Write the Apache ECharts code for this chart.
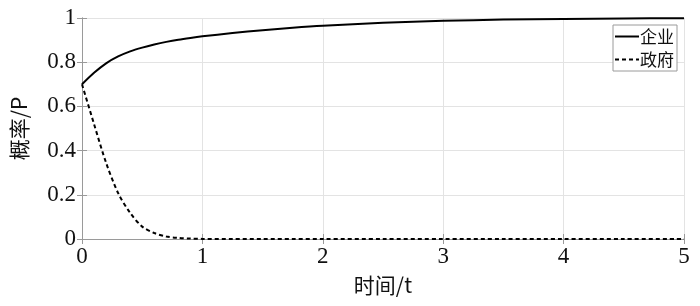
<!DOCTYPE html>
<html><head><meta charset="utf-8">
<script src="https://cdn.jsdelivr.net/npm/echarts@6/dist/echarts.min.js"></script>
<style>html,body{margin:0;padding:0;background:#fff}#c{width:700px;height:306px}</style>
</head><body><div id="c"></div>
<script>
var seriesNames = ['企业', '政府'];
var tValues = [0, 0.1, 0.2, 0.3, 0.4, 0.5, 0.6, 0.7, 0.8, 0.9, 1.0, 1.25, 1.5, 1.75, 2.0, 2.5, 3.0, 3.5, 4.0, 4.5, 5.0];
var enterprise = [0.70, 0.752, 0.795, 0.826, 0.849, 0.866, 0.880, 0.892, 0.902, 0.910, 0.917, 0.932, 0.945, 0.956, 0.965, 0.978, 0.987, 0.993, 0.996, 0.998, 0.999];
var government = [0.70, 0.52, 0.345, 0.208, 0.118, 0.056, 0.027, 0.011, 0.005, 0.002, 0.0005, 0, 0, 0, 0, 0, 0, 0, 0, 0, 0];
var xTicks = [0, 1, 2, 3, 4, 5];
var yTicks = [0, 0.2, 0.4, 0.6, 0.8, 1];

function pairs(ys) { return tValues.map(function (t, i) { return [t, ys[i]]; }); }

var serif = '"Liberation Serif", "Noto Sans CJK SC", serif';
var cjk = '"Noto Sans CJK SC", "Liberation Serif", serif';
var gridColor = '#e3e3e3';
var frameColor = '#9a9a9a';
var solidIcon = 'path://M0,0L24,0L24,2L0,2Z';
var dashIcon = 'path://M0,0L4,0L4,2L0,2Z M7,0L11,0L11,2L7,2Z M14,0L18,0L18,2L14,2Z M21,0L24,0L24,2L21,2Z';

var chart = echarts.init(document.getElementById('c'), null, { renderer: 'canvas' });
var baseX = {
  type: 'value', min: xTicks[0], max: xTicks[xTicks.length - 1], interval: 1,
  axisLine: { show: true, lineStyle: { color: frameColor, width: 1 } },
  axisTick: { show: true, inside: true, length: 5, lineStyle: { color: frameColor } }
};
var baseY = {
  type: 'value', min: yTicks[0], max: yTicks[yTicks.length - 1], interval: 0.2,
  axisLine: { show: true, lineStyle: { color: frameColor, width: 1 } },
  axisTick: { show: true, inside: true, length: 5, lineStyle: { color: frameColor } }
};
chart.setOption({
  animation: false,
  grid: { left: 82, right: 16, top: 18, bottom: 67, containLabel: false },
  legend: {
    orient: 'vertical', right: 23, top: 25,
    data: [
      { name: seriesNames[0], icon: solidIcon },
      { name: seriesNames[1], icon: dashIcon }
    ],
    itemWidth: 24, itemHeight: 2, itemGap: 6,
    padding: [3, 3, 3, 2],
    itemStyle: { color: '#000', borderWidth: 0 },
    lineStyle: { opacity: 0 },
    borderColor: '#9a9a9a', borderWidth: 1, backgroundColor: '#fff',
    textStyle: { fontFamily: cjk, fontSize: 17, color: '#111', padding: [0, 0, 0, -4], lineHeight: 17 }
  },
  xAxis: [
    Object.assign({}, baseX, {
      position: 'bottom',
      name: '时间/t', nameLocation: 'middle', nameGap: 36,
      nameTextStyle: { fontFamily: cjk, fontSize: 21, color: '#111' },
      axisLabel: { fontFamily: serif, fontSize: 23, color: '#111', margin: 6 },
      splitLine: { show: true, lineStyle: { color: gridColor, width: 1 } }
    }),
    Object.assign({}, baseX, {
      position: 'top', axisLabel: { show: false }, splitLine: { show: false }
    })
  ],
  yAxis: [
    Object.assign({}, baseY, {
      position: 'left',
      name: '概率/P', nameLocation: 'middle', nameGap: 52,
      nameTextStyle: { fontFamily: cjk, fontSize: 21, color: '#111' },
      axisLabel: { fontFamily: serif, fontSize: 23, color: '#111', margin: 6 },
      splitLine: { show: true, lineStyle: { color: gridColor, width: 1 } }
    }),
    Object.assign({}, baseY, {
      position: 'right', axisLabel: { show: false }, splitLine: { show: false }
    })
  ],
  series: [
    {
      name: seriesNames[0], type: 'line', data: pairs(enterprise), smooth: 0.3,
      showSymbol: false, symbol: 'none', xAxisIndex: 0, yAxisIndex: 0,
      lineStyle: { color: '#000', width: 2, type: 'solid' }, itemStyle: { color: '#000' }
    },
    {
      name: seriesNames[1], type: 'line', data: pairs(government), smooth: 0.3,
      showSymbol: false, symbol: 'none', xAxisIndex: 0, yAxisIndex: 0,
      lineStyle: { color: '#000', width: 2, type: [4, 3] }, itemStyle: { color: '#000' }
    }
  ]
});
</script></body></html>
